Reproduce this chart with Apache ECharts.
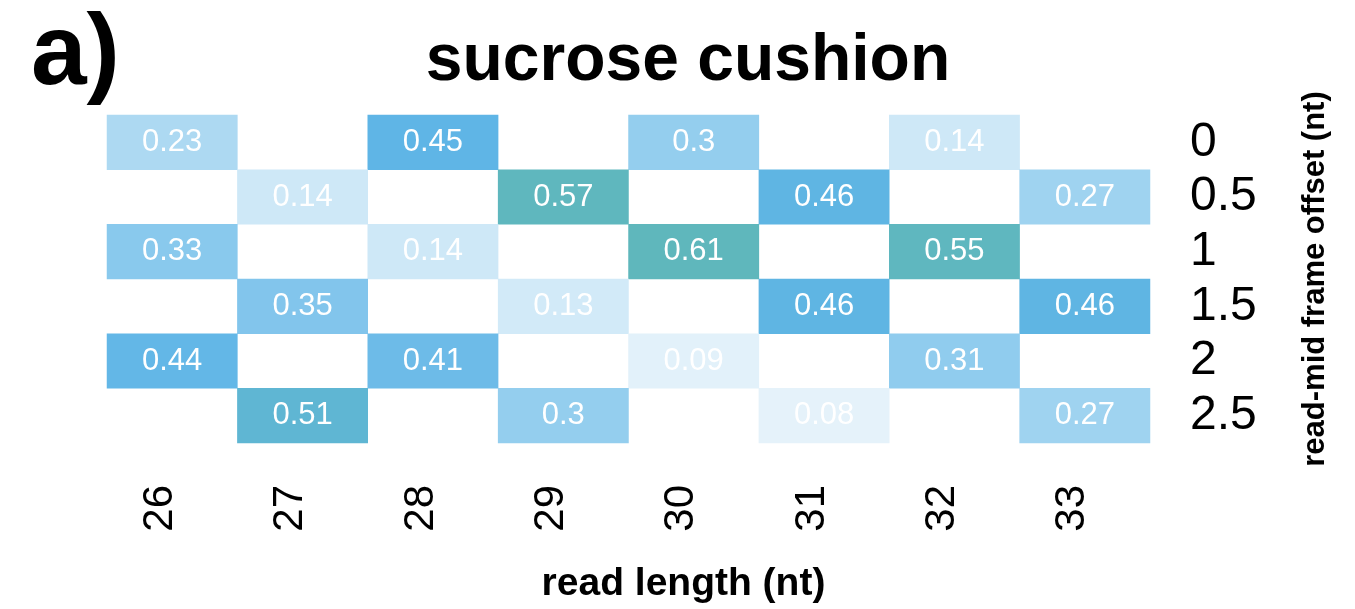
<!DOCTYPE html>
<html>
<head>
<meta charset="utf-8">
<script src="https://cdn.jsdelivr.net/npm/echarts@6/dist/echarts.min.js"></script>
<style>html,body{margin:0;padding:0;background:#fff}#c{width:1355px;height:609px}</style>
</head>
<body>
<div id="c"></div>
<script>
var readLengths = ['26','27','28','29','30','31','32','33'];
var offsets = ['0','0.5','1','1.5','2','2.5'];
// values per offset row, by read length (null = empty)
var row0   = [0.23, null, 0.45, null, 0.3,  null, 0.14, null];
var row05  = [null, 0.14, null, 0.57, null, 0.46, null, 0.27];
var row1   = [0.33, null, 0.14, null, 0.61, null, 0.55, null];
var row15  = [null, 0.35, null, 0.13, null, 0.46, null, 0.46];
var row2   = [0.44, null, 0.41, null, 0.09, null, 0.31, null];
var row25  = [null, 0.51, null, 0.3,  null, 0.08, null, 0.27];
var rows = [row0, row05, row1, row15, row2, row25];

var data = [];
rows.forEach(function (r, yi) {
  r.forEach(function (v, xi) {
    if (v !== null) data.push([xi, yi, v]);
  });
});

var FONT = '"Liberation Sans", Arial, Helvetica, sans-serif';
var chart = echarts.init(document.getElementById('c'));
chart.setOption({
  backgroundColor: '#ffffff',
  animation: false,
  title: {
    text: 'sucrose cushion',
    left: 683, top: 24, textAlign: 'center',
    textStyle: { fontFamily: FONT, fontSize: 66, fontWeight: 'bold', color: '#000' }
  },
  graphic: [{
    type: 'text', left: 31, top: 6,
    style: { text: 'a)', font: 'bold 100px ' + FONT, fill: '#000' }
  }],
  grid: { left: 107, right: 205, top: 115, bottom: 164 },
  xAxis: {
    type: 'category', data: readLengths,
    axisLine: { show: false }, axisTick: { show: false }, splitLine: { show: false },
    axisLabel: { interval: 0, rotate: 90, margin: 42, fontSize: 42, color: '#000', fontFamily: FONT,
                 verticalAlign: 'bottom', lineHeight: 24 },
    name: 'read length (nt)', nameLocation: 'middle', nameGap: 122,
    nameTextStyle: { fontFamily: FONT, fontSize: 39, fontWeight: 'bold', color: '#000', padding: [0, 0, 0, 110] }
  },
  yAxis: {
    type: 'category', data: offsets, position: 'right', inverse: true,
    axisLine: { show: false }, axisTick: { show: false }, splitLine: { show: false },
    axisLabel: { interval: 0, margin: 40, fontSize: 48, color: '#000', fontFamily: FONT },
    name: 'read-mid frame offset (nt)', nameLocation: 'middle', nameRotate: 90, nameGap: 150,
    nameTextStyle: { fontFamily: FONT, fontSize: 31, fontWeight: 'bold', color: '#000' }
  },
  visualMap: {
    show: false, type: 'continuous', min: 0, max: 0.6, dimension: 2,
    inRange: { color: ['#ffffff','#eff7fc','#dfeff9','#cae6f7','#b8def4','#a6d6f1','#94ceee','#82c5ec','#71bde9','#5fb5e6','#5fb6d8','#5fb7bf','#5fb7bc'] }
  },
  series: [{
    type: 'heatmap', data: data,
    itemStyle: { borderWidth: 0 },
    label: {
      show: true, color: '#ffffff', fontSize: 31, fontFamily: FONT,
      formatter: function (p) { return String(p.value[2]); }
    }
  }]
});
</script>
</body>
</html>
